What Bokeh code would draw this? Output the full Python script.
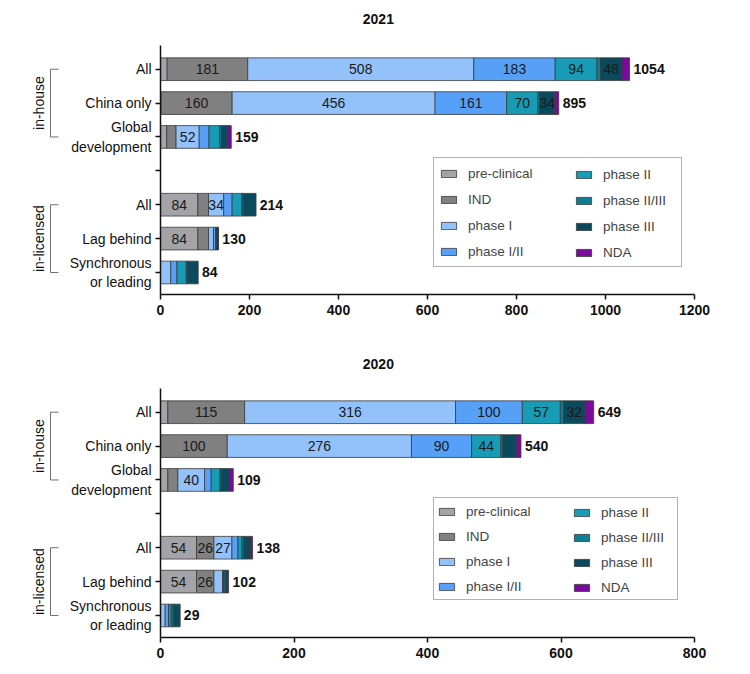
import math
from bokeh.plotting import figure
from bokeh.models import ColumnDataSource, Range1d, FixedTicker, Legend, LegendItem
from bokeh.layouts import column, row
from bokeh.embed import file_html
from bokeh.resources import INLINE
from bokeh.core.properties import value

FONT = "Liberation Sans"

# ---------------- data ----------------
stages = ["pre-clinical", "IND", "phase I", "phase I/II",
          "phase II", "phase II/III", "phase III", "NDA"]
stage_colors = ["#a3a3a8", "#808080", "#93c1f9", "#56a1f7",
                "#189bb5", "#0f7e93", "#0a4a5c", "#780a9c"]

groups = ["in-house", "in-licensed"]
group_rows = [["All", "China only", "Global\ndevelopment"],
              ["All", "Lag behind", "Synchronous\nor leading"]]

# rows: in-house All, China only, Global development, in-licensed All, Lag behind, Synchronous or leading
pre_2021 = [15, 1, 14, 84, 84, 0]
ind_2021 = [181, 160, 21, 24, 24, 0]
p1_2021 = [508, 456, 52, 34, 11, 23]
p12_2021 = [183, 161, 22, 19, 5, 14]
p2_2021 = [94, 70, 24, 22, 1, 21]
p23_2021 = [8, 4, 4, 3, 1, 2]
p3_2021 = [48, 34, 14, 28, 4, 24]
nda_2021 = [17, 9, 8, 0, 0, 0]
totals_2021 = [1054, 895, 159, 214, 130, 84]
xticks_2021 = [0, 200, 400, 600, 800, 1000, 1200]

pre_2020 = [11, 0, 11, 54, 54, 0]
ind_2020 = [115, 100, 15, 26, 26, 0]
p1_2020 = [316, 276, 40, 27, 13, 7]
p12_2020 = [100, 90, 10, 9, 1, 5]
p2_2020 = [57, 44, 13, 6, 1, 4]
p23_2020 = [5, 3, 2, 3, 2, 3]
p3_2020 = [32, 20, 12, 10, 3, 10]
nda_2020 = [13, 7, 6, 3, 2, 0]
totals_2020 = [649, 540, 109, 138, 102, 29]
xticks_2020 = [0, 200, 400, 600, 800]

# ---------------- layout helpers ----------------
positions = []
tick_labels = {}
group_spans = []
pos = 0
for g, rows_ in zip(groups, group_rows):
    start = pos
    for r in rows_:
        positions.append(pos)
        tick_labels[pos] = r
        pos += 1
    group_spans.append((g, start, pos - 1))
    tick_labels[pos] = ""
    pos += 1
last_pos = positions[-1]
all_ticks = list(range(0, last_pos + 1))
overrides = {t: tick_labels.get(t, "") for t in all_ticks}

MAIN_W = 670
LEFT_W = 64
PAD_TOP = 0.7        # category units above first row
PAD_BOTTOM = 0.65    # category units below last row
AXIS_H = 249         # px height of the axis area
TITLE_X_FRAC = 0.408  # heading position as fraction of the x range


def make_chart(year, values, totals, xticks, label_min, legend_vy, height,
               border_bottom, title_gap, legend_cfg):
    frame_h = height - border_bottom
    ppu = AXIS_H / (last_pos + PAD_BOTTOM + PAD_TOP)
    y_start = last_pos + PAD_BOTTOM
    y_end = -PAD_TOP - (frame_h - AXIS_H) / ppu
    yr = Range1d(y_start, y_end)
    xmax = xticks[-1]

    data = {"y": positions}
    for s, v in zip(stages, values):
        data[s] = v
    src = ColumnDataSource(data)

    p = figure(width=MAIN_W, height=height, x_range=Range1d(0, xmax), y_range=yr,
               output_backend="svg", toolbar_location=None,
               min_border_left=96, min_border_right=40, min_border_top=0,
               min_border_bottom=border_bottom)
    p.outline_line_color = None
    p.xgrid.visible = False
    p.ygrid.visible = False

    rs = p.hbar_stack(stages, y="y", height=0.67, source=src,
                      fill_color=stage_colors, line_color="#3a3a3a", line_width=0.8)

    lx, ly, lt = [], [], []
    for i, yv in enumerate(positions):
        left = 0
        for v in values:
            val = v[i]
            if val >= label_min:
                lx.append(left + val / 2)
                ly.append(yv)
                lt.append(str(val))
            left += val
    p.text(x=lx, y=ly, text=lt, text_font=value(FONT), text_font_size="14px",
           text_align="center", text_baseline="middle", text_color="#1a1a1a")
    p.text(x=totals, y=positions, text=[str(t) for t in totals], x_offset=4,
           text_font=value(FONT), text_font_size="14px", text_font_style="bold",
           text_align="left", text_baseline="middle", text_color="#111111")

    # heading
    p.text(x=[xmax * TITLE_X_FRAC], y=[-PAD_TOP - title_gap / ppu], text=[year],
           text_font=value(FONT), text_font_size="14px", text_font_style="bold",
           text_align="center", text_baseline="middle", text_color="#111111")

    # axes
    xa = p.xaxis[0]
    xa.ticker = FixedTicker(ticks=xticks)
    xa.major_label_text_font = FONT
    xa.major_label_text_font_size = "14px"
    xa.major_label_text_font_style = "bold"
    xa.major_label_text_color = "#111111"
    xa.axis_line_width = 1.5
    xa.major_tick_line_width = 1.5
    xa.major_tick_out = 5
    xa.major_tick_in = 0
    xa.minor_tick_out = 0
    xa.minor_tick_in = 0
    xa.axis_line_color = "#111111"
    xa.major_tick_line_color = "#111111"

    ya = p.yaxis[0]
    ya.bounds = (-PAD_TOP, last_pos + PAD_BOTTOM)
    ya.ticker = FixedTicker(ticks=all_ticks)
    ya.major_label_overrides = overrides
    ya.major_label_text_font = FONT
    ya.major_label_text_font_size = "14px"
    ya.major_label_text_color = "#111111"
    ya.major_label_standoff = 4
    ya.axis_line_width = 1.5
    ya.major_tick_line_width = 1.5
    ya.major_tick_out = 5
    ya.major_tick_in = 0
    ya.minor_tick_out = 0
    ya.minor_tick_in = 0
    ya.axis_line_color = "#111111"
    ya.major_tick_line_color = "#111111"

    common = dict(orientation="vertical", label_text_font=FONT, label_text_font_size="13.5px",
                  glyph_width=19, glyph_height=9, label_standoff=10, margin=0, **legend_cfg)
    leg1 = Legend(items=[LegendItem(label=s, renderers=[r]) for s, r in zip(stages[:4], rs[:4])],
                  location=(273, legend_vy), label_width=208,
                  border_line_color="#666666", border_line_width=1,
                  background_fill_color="white", **common)
    leg2 = Legend(items=[LegendItem(label=s, renderers=[r]) for s, r in zip(stages[4:], rs[4:])],
                  location=(409, legend_vy), label_width=20,
                  border_line_alpha=0, background_fill_alpha=0, **common)
    p.add_layout(leg1, "center")
    p.add_layout(leg2, "center")

    # group brackets on the left
    q = figure(width=LEFT_W, height=height, x_range=Range1d(0, LEFT_W), y_range=yr,
               output_backend="svg", toolbar_location=None,
               min_border_left=0, min_border_right=0, min_border_top=0,
               min_border_bottom=border_bottom,
               x_axis_location=None, y_axis_location=None)
    q.outline_line_color = None
    q.grid.visible = False
    for g, a, b in group_spans:
        q.line(x=[58, 50, 50, 58], y=[a, a, b, b], line_color="#707070", line_width=1)
        q.text(x=[38], y=[(a + b) / 2], text=[g], angle=math.pi / 2,
               text_font=value(FONT), text_font_size="14px",
               text_align="center", text_baseline="middle", text_color="#111111")
    return row(q, p)


vals_2021 = [pre_2021, ind_2021, p1_2021, p12_2021, p2_2021, p23_2021, p3_2021, nda_2021]
vals_2020 = [pre_2020, ind_2020, p1_2020, p12_2020, p2_2020, p23_2020, p3_2020, nda_2020]

top = make_chart("2021", vals_2021, totals_2021, xticks_2021, 30, 27, 345, 51, 27,
                 dict(spacing=6, padding=5, label_height=20))
bottom = make_chart("2020", vals_2020, totals_2020, xticks_2020, 25, 37, 320, 28, 25,
                    dict(spacing=5, padding=3, label_height=20))

layout = column(top, bottom)
open("out.html", "w").write(file_html(layout, INLINE))
